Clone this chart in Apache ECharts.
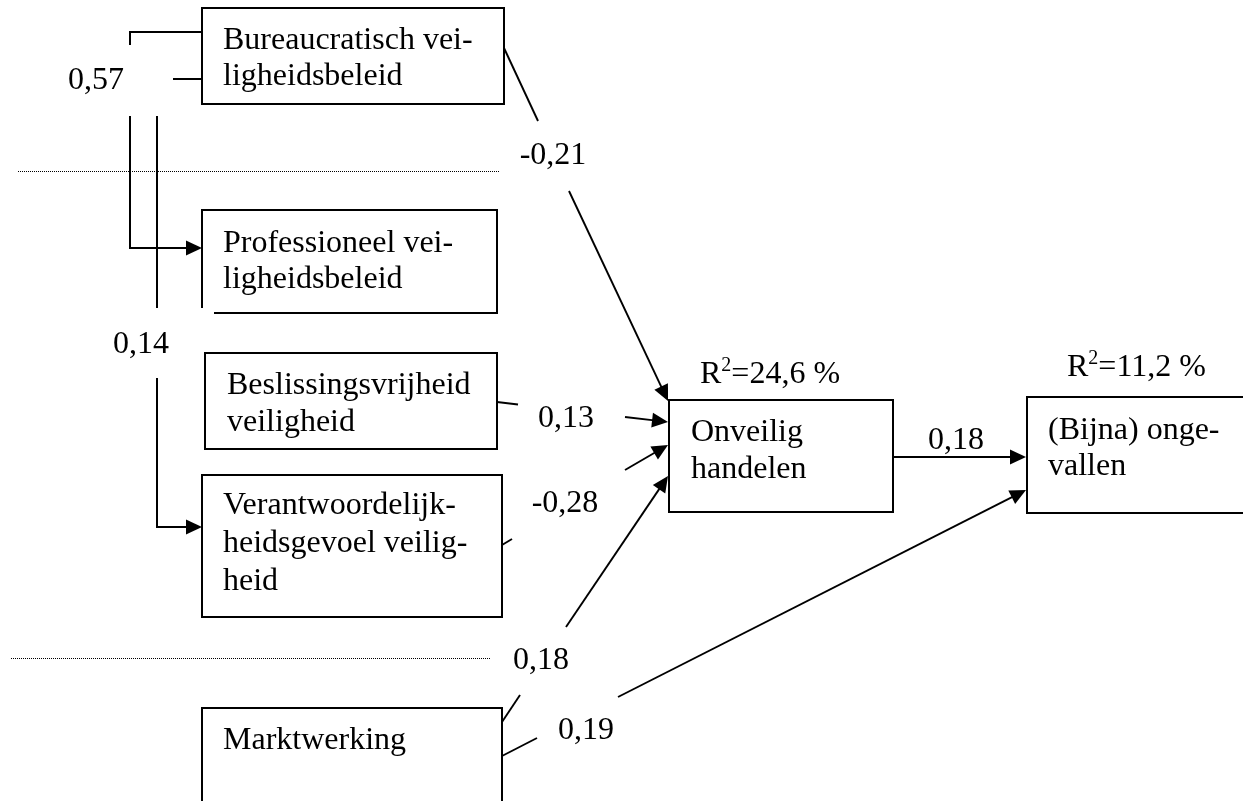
<!DOCTYPE html>
<html><head><meta charset="utf-8">
<script src="https://cdn.jsdelivr.net/npm/echarts@6/dist/echarts.min.js"></script>
<style>html,body{margin:0;padding:0;background:#fff;}#c{width:1243px;height:801px;}</style>
</head><body><div id="c"></div>
<script>
// ---------------- data ----------------
const nodeLabels = [
  ['Bureaucratisch vei-', 'ligheidsbeleid'],
  ['Professioneel vei-', 'ligheidsbeleid'],
  ['Beslissingsvrijheid', 'veiligheid'],
  ['Verantwoordelijk-', 'heidsgevoel veilig-', 'heid'],
  ['Marktwerking'],
  ['Onveilig', 'handelen'],
  ['(Bijna) onge-', 'vallen']
];
const pathFrom = [0, 0, 0, 2, 3, 4, 4, 5];
const pathTo   = [1, 3, 5, 5, 5, 5, 6, 6];
const pathCoef = ['0,57', '0,14', '-0,21', '0,13', '-0,28', '0,18', '0,19', '0,18'];
const r2Nodes  = [5, 6];
const r2Values = ['24,6 %', '11,2 %'];

// ---------------- layout (axis units = px) ----------------
const boxOutline = [
  [[202,8],[504,8],[504,104],[202,104]],
  [[202,308],[202,210],[497,210],[497,313],[214,313]],
  [[205,353],[497,353],[497,449],[205,449]],
  [[202,475],[502,475],[502,617],[202,617]],
  [[202,815],[202,708],[502,708],[502,815]],
  [[669,400],[893,400],[893,512],[669,512]],
  [[1250,397],[1027,397],[1027,513],[1250,513]]
];
const boxClosed = [true, false, true, true, false, true, false];
const textStart = [[223,48],[223,251],[227,393],[223,513],[223,748],[691,440],[1048,438]];
const lineGap = [36, 36, 37, 38, 37, 37, 36];
const pathSegments = [
  [[[202,32],[130,32],[130,45]], [[130,116],[130,248],[202,248]]],
  [[[202,79],[173,79]], [[157,116],[157,308]], [[157,378],[157,527],[202,527]]],
  [[[504,48],[538,121]], [[569,191],[668,401]]],
  [[[497,402],[518,404.5]], [[625,417],[668,422]]],
  [[[502,545],[512,539]], [[625,470],[668,445]]],
  [[[502,722],[520,695]], [[566,627],[668,476]]],
  [[[502,756],[537,738]], [[618,697],[1026,490]]],
  [[[893,457],[1026,457]]]
];
const coefPos = [[96,88],[141,352],[553,163],[566,426],[565,511],[541,668],[586,738],[956,448]];
const r2Pos = [[700,382],[1067,375]];
const separators = [[[18,171.5],[500,171.5]], [[11,658.5],[491,658.5]]];

const FONT = '"Liberation Serif","Times New Roman",Times,serif';
const FS = 32;
const MID = 7.5;
const measureCtx = document.createElement('canvas').getContext('2d');
function textW(t, fs) { measureCtx.font = fs + 'px ' + FONT; return measureCtx.measureText(t).width; }

function txt(x, y, t, fs, align) {
  return { type: 'text', x: x, y: y - MID * fs / FS, silent: true,
    style: { text: t, font: fs + 'px ' + FONT, fill: '#000', align: align || 'left', verticalAlign: 'middle' } };
}

function renderBox(params, api) {
  const i = api.value(0);
  const pts = boxOutline[i].map(p => api.coord(p));
  const children = [{
    type: boxClosed[i] ? 'polygon' : 'polyline', shape: { points: pts },
    style: { fill: 'none', stroke: '#000', lineWidth: 2, lineJoin: 'miter' }
  }];
  nodeLabels[i].forEach((line, k) => {
    const c = api.coord([textStart[i][0], textStart[i][1] + k * lineGap[i]]);
    children.push(txt(c[0], c[1], line, FS, 'left'));
  });
  return { type: 'group', children: children };
}

function renderPath(params, api) {
  const i = api.value(0);
  const segs = pathSegments[i];
  const children = [];
  segs.forEach((seg, s) => {
    let pts = seg.map(p => api.coord(p));
    if (s === segs.length - 1) {
      const tip = pts[pts.length - 1], prev = pts[pts.length - 2];
      const dx = tip[0] - prev[0], dy = tip[1] - prev[1];
      const len = Math.hypot(dx, dy), ux = dx / len, uy = dy / len;
      const L = 16, W = 7.5;
      const bx = tip[0] - ux * L, by = tip[1] - uy * L;
      pts = pts.slice(0, -1).concat([[bx + ux * 2, by + uy * 2]]);
      children.push({ type: 'polygon', shape: { points: [tip, [bx - uy * W, by + ux * W], [bx + uy * W, by - ux * W]] },
        style: { fill: '#000', stroke: null } });
    }
    const diag = seg.length === 2 && seg[0][0] !== seg[1][0] && seg[0][1] !== seg[1][1];
    children.push({ type: 'polyline', shape: { points: pts },
      style: { fill: 'none', stroke: '#000', lineWidth: diag ? 1.9 : 2, lineJoin: 'miter' } });
  });
  const c = api.coord(coefPos[i]);
  children.push(txt(c[0], c[1], pathCoef[i], FS, 'center'));
  return { type: 'group', children: children };
}

function renderR2(params, api) {
  const i = api.value(0);
  const c = api.coord(r2Pos[i]);
  const wR = textW('R', FS), w2 = textW('2', 20);
  return { type: 'group', children: [
    txt(c[0], c[1], 'R', FS, 'left'),
    txt(c[0] + wR, c[1] - 12, '2', 20, 'left'),
    txt(c[0] + wR + w2, c[1], '=' + r2Values[i], FS, 'left')
  ]};
}

function renderSep(params, api) {
  const i = api.value(0);
  return { type: 'polyline', shape: { points: separators[i].map(p => api.coord(p)) },
    style: { fill: 'none', stroke: '#000', lineWidth: 1, lineDash: [1, 1] } };
}

const chart = echarts.init(document.getElementById('c'), null, { renderer: 'canvas' });
chart.setOption({
  animation: false,
  backgroundColor: '#fff',
  grid: { left: 0, right: 0, top: 0, bottom: 0 },
  xAxis: { type: 'value', min: 0, max: 1243, show: false },
  yAxis: { type: 'value', min: 0, max: 801, inverse: true, show: false },
  series: [
    { type: 'custom', coordinateSystem: 'cartesian2d', clip: false, silent: true, renderItem: renderSep,
      encode: { x: 0, y: 0 }, data: separators.map((_, i) => [i]) },
    { type: 'custom', coordinateSystem: 'cartesian2d', clip: false, silent: true, renderItem: renderBox,
      encode: { x: 0, y: 0 }, data: nodeLabels.map((_, i) => [i]) },
    { type: 'custom', coordinateSystem: 'cartesian2d', clip: false, silent: true, renderItem: renderPath,
      encode: { x: 0, y: 0 }, data: pathCoef.map((_, i) => [i, pathFrom[i], pathTo[i]]) },
    { type: 'custom', coordinateSystem: 'cartesian2d', clip: false, silent: true, renderItem: renderR2,
      encode: { x: 0, y: 0 }, data: r2Nodes.map((n, i) => [i, n]) }
  ]
});
</script></body></html>
